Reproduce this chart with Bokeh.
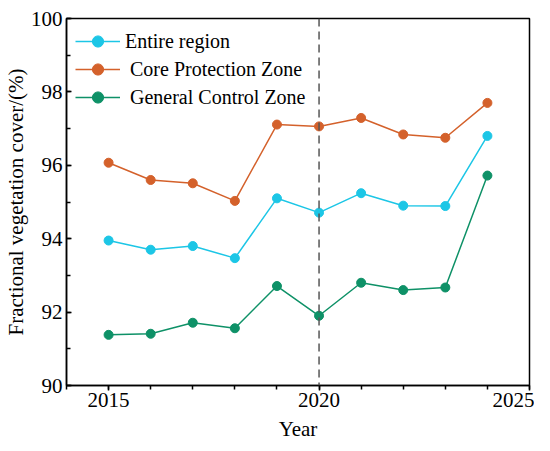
from bokeh.plotting import figure
from bokeh.models import Range1d, FixedTicker, Span, Legend, LegendItem, ColumnDataSource
from bokeh.embed import file_html
from bokeh.resources import INLINE

years = [2015, 2016, 2017, 2018, 2019, 2020, 2021, 2022, 2023, 2024]
entire_region = [93.95, 93.70, 93.80, 93.47, 95.10, 94.71, 95.24, 94.90, 94.89, 96.80]
core_zone = [96.07, 95.60, 95.51, 95.03, 97.11, 97.06, 97.29, 96.84, 96.75, 97.70]
general_zone = [91.38, 91.41, 91.71, 91.56, 92.71, 91.90, 92.80, 92.60, 92.67, 95.72]

series_names = ["Entire region", " Core Protection Zone", " General Control Zone"]
series_colors = ["#1CC6E6", "#D4612B", "#0E9167"]
x_ticks = [2015, 2020, 2025]
y_ticks = [90, 92, 94, 96, 98, 100]
divider_year = 2020

FONT = "Liberation Serif"

p = figure(width=534, height=443, output_backend="svg", toolbar_location=None,
           x_range=Range1d(2014, 2025), y_range=Range1d(90, 100),
           min_border_left=66, min_border_right=5, min_border_top=18, min_border_bottom=57)
p.xgrid.visible = False
p.ygrid.visible = False
p.outline_line_color = "black"
p.outline_line_width = 1.5
p.background_fill_color = "white"
p.border_fill_color = "white"

p.xaxis.ticker = FixedTicker(ticks=x_ticks, minor_ticks=list(range(2014, 2026)))
p.yaxis.ticker = FixedTicker(ticks=y_ticks, minor_ticks=list(range(90, 101)))

for ax in (p.xaxis[0], p.yaxis[0]):
    ax.axis_line_color = "black"
    ax.axis_line_width = 1.5
    ax.major_tick_line_color = "black"
    ax.minor_tick_line_color = "black"
    ax.major_tick_line_width = 1.5
    ax.minor_tick_line_width = 1.5
    ax.major_label_text_font = FONT
    ax.major_label_text_font_size = "21px"
    ax.major_label_text_font_style = "normal"
    ax.major_label_text_color = "black"
    ax.axis_label_text_font = FONT
    ax.axis_label_text_font_size = "21px"
    ax.axis_label_text_font_style = "normal"
    ax.axis_label_text_color = "black"

p.xaxis.major_tick_out = 5
p.xaxis.major_tick_in = 0
p.xaxis.minor_tick_out = 4
p.xaxis.minor_tick_in = 0
p.xaxis.major_label_standoff = 2
p.xaxis.axis_label = "Year"
p.xaxis.axis_label_standoff = 7

p.yaxis.major_tick_out = 0
p.yaxis.major_tick_in = 5
p.yaxis.minor_tick_out = 0
p.yaxis.minor_tick_in = 4
p.yaxis.major_label_standoff = 4
p.yaxis.axis_label = "Fractional vegetation cover/(%)"
p.yaxis.axis_label_standoff = 0

p.add_layout(Span(location=divider_year, dimension="height", line_color="#555555",
                  line_width=1.5, line_dash="8 5"))

items = []
for vals, name, col in zip([entire_region, core_zone, general_zone], series_names, series_colors):
    src = ColumnDataSource(dict(x=years, y=vals))
    r1 = p.line("x", "y", source=src, line_color=col, line_width=1.5)
    r2 = p.scatter("x", "y", source=src, size=9, fill_color=col, line_color=col)
    items.append(LegendItem(label=name, renderers=[r1, r2]))

legend = Legend(items=items, location="top_left", border_line_color=None,
                background_fill_alpha=0, label_text_font=FONT, label_text_font_size="20px",
                label_text_font_style="normal",
                label_text_color="black", glyph_width=45, glyph_height=28, label_height=28,
                label_standoff=5, spacing=0, padding=0, margin=9)
p.add_layout(legend)

open("out.html", "w").write(file_html(p, INLINE))
